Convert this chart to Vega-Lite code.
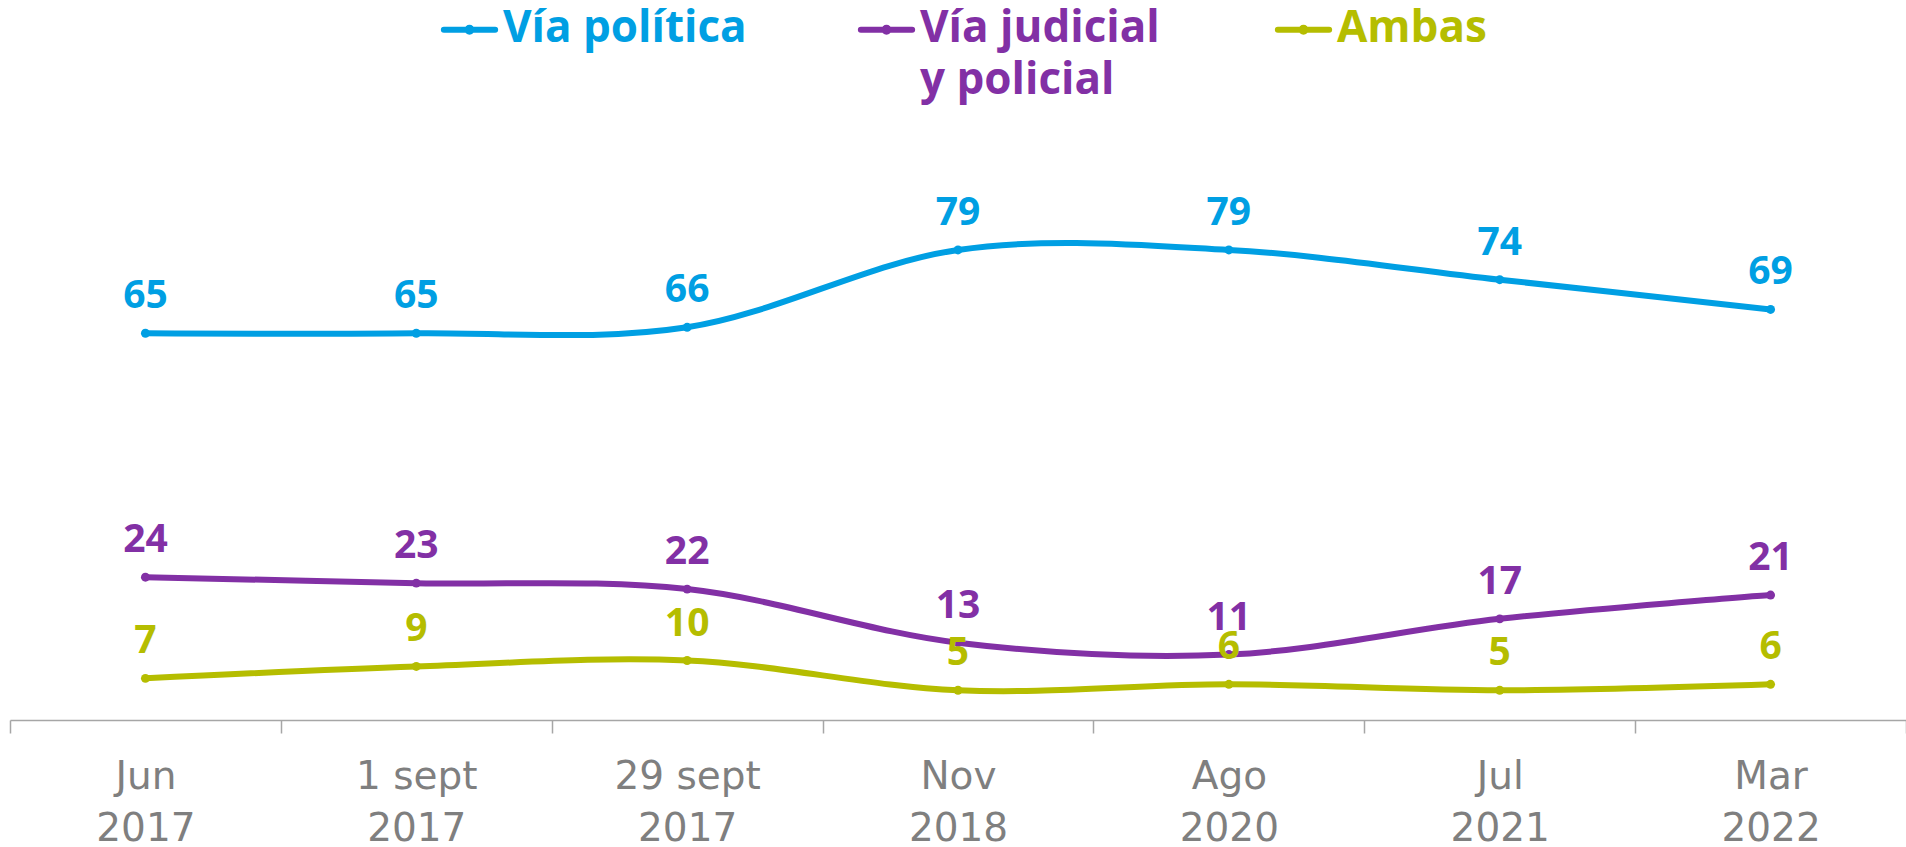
{
  "$schema": "https://vega.github.io/schema/vega-lite/v6.json",
  "width": 1896,
  "height": 595,
  "autosize": {"type": "none"},
  "padding": {"left": 10, "top": 125, "right": 0, "bottom": 127},
  "background": "white",
  "config": {"view": {"stroke": null}, "font": "Open Sans"},
  "data": {
    "values": [
      {"fecha": "Jun 2017", "serie": "Vía política", "valor": 65},
      {"fecha": "1 sept 2017", "serie": "Vía política", "valor": 65},
      {"fecha": "29 sept 2017", "serie": "Vía política", "valor": 66},
      {"fecha": "Nov 2018", "serie": "Vía política", "valor": 79},
      {"fecha": "Ago 2020", "serie": "Vía política", "valor": 79},
      {"fecha": "Jul 2021", "serie": "Vía política", "valor": 74},
      {"fecha": "Mar 2022", "serie": "Vía política", "valor": 69},
      {"fecha": "Jun 2017", "serie": "Vía judicial y policial", "valor": 24},
      {"fecha": "1 sept 2017", "serie": "Vía judicial y policial", "valor": 23},
      {"fecha": "29 sept 2017", "serie": "Vía judicial y policial", "valor": 22},
      {"fecha": "Nov 2018", "serie": "Vía judicial y policial", "valor": 13},
      {"fecha": "Ago 2020", "serie": "Vía judicial y policial", "valor": 11},
      {"fecha": "Jul 2021", "serie": "Vía judicial y policial", "valor": 17},
      {"fecha": "Mar 2022", "serie": "Vía judicial y policial", "valor": 21},
      {"fecha": "Jun 2017", "serie": "Ambas", "valor": 7},
      {"fecha": "1 sept 2017", "serie": "Ambas", "valor": 9},
      {"fecha": "29 sept 2017", "serie": "Ambas", "valor": 10},
      {"fecha": "Nov 2018", "serie": "Ambas", "valor": 5},
      {"fecha": "Ago 2020", "serie": "Ambas", "valor": 6},
      {"fecha": "Jul 2021", "serie": "Ambas", "valor": 5},
      {"fecha": "Mar 2022", "serie": "Ambas", "valor": 6}
    ]
  },
  "encoding": {
    "x": {
      "field": "fecha",
      "type": "nominal",
      "sort": null,
      "title": null,
      "scale": {"type": "band", "paddingInner": 0, "paddingOuter": 0},
      "axis": {
        "tickBand": "extent",
        "labelExpr": "[slice(datum.label, 0, length(datum.label) - 5), slice(datum.label, -4)]",
        "labelFont": "DejaVu Sans",
        "labelFontSize": 39,
        "labelColor": "#7f7f7f",
        "labelLineHeight": 52,
        "labelBaseline": "top",
        "labelPadding": 24,
        "labelAngle": 0,
        "labelOverlap": false,
        "labelFlush": false,
        "labelLimit": 0,
        "tickSize": 13,
        "tickWidth": 1.5,
        "tickColor": "#a6a6a6",
        "domainColor": "#a6a6a6",
        "domainWidth": 1.5,
        "grid": false
      }
    },
    "y": {
      "field": "valor",
      "type": "quantitative",
      "scale": {"domain": [0, 100], "nice": false, "zero": true},
      "axis": null
    },
    "color": {
      "field": "serie",
      "type": "nominal",
      "scale": {
        "domain": ["Vía política", "Vía judicial y policial", "Ambas"],
        "range": ["#009fe3", "#8230a5", "#b5bd00"]
      },
      "legend": {
        "orient": "none",
        "legendX": 428,
        "legendY": -127,
        "direction": "horizontal",
        "title": null,
        "padding": 0,
        "gridAlign": "all",
        "columnPadding": 101,
        "symbolType": "M-0.9,0L0.9,0M0.07,0A0.07,0.07,0,1,1,-0.07,0A0.07,0.07,0,1,1,0.07,0Z",
        "symbolSize": 3249,
        "symbolStrokeWidth": 6,
        "labelFont": "Open Sans",
        "labelFontWeight": "bold",
        "labelFontSize": 44,
        "labelOffset": 2,
        "labelLimit": 600,
        "labelBaseline": "alphabetic",
        "labelExpr": "datum.label == 'Vía judicial y policial' ? ['Vía judicial', 'y policial'] : [datum.label, '']",
        "encode": {
          "labels": {"update": {"fill": {"scale": "color", "field": "value"}, "dy": {"value": 12}, "lineHeight": {"value": 52}}},
          "symbols": {"update": {"fill": {"scale": "color", "field": "value"}, "stroke": {"scale": "color", "field": "value"}, "strokeCap": {"value": "round"}, "opacity": {"value": 1}}}
        }
      }
    }
  },
  "layer": [
    {"mark": {"type": "line", "interpolate": "cardinal", "strokeWidth": 6, "strokeCap": "round"}},
    {"mark": {"type": "point", "filled": true, "size": 80, "opacity": 1}},
    {
      "mark": {"type": "text", "font": "Open Sans", "fontWeight": "bold", "fontSize": 39, "baseline": "alphabetic", "dy": -25},
      "encoding": {"text": {"field": "valor", "type": "quantitative"}}
    }
  ]
}
